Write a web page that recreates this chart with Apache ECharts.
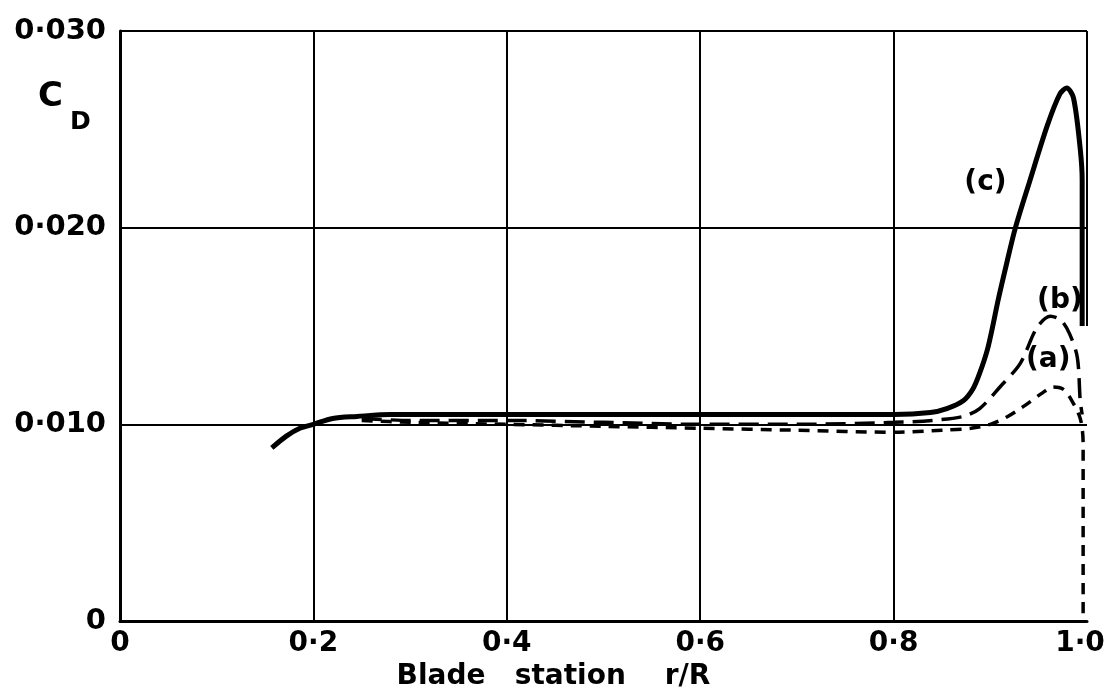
<!DOCTYPE html>
<html>
<head>
<meta charset="utf-8">
<script src="https://cdn.jsdelivr.net/npm/echarts@6/dist/echarts.min.js"></script>
<style>html,body{margin:0;padding:0;background:#fff;}#c{width:1109px;height:695px;}</style>
</head>
<body>
<div id="c"></div>
<script>
const xTickLabels = {0: '0', 0.2: '0·2', 0.4: '0·4', 0.6: '0·6', 0.8: '0·8', 1: '1·0'};
const yTickLabels = {0: '0', 0.01: '0·010', 0.02: '0·020', 0.03: '0·030'};

const curveC_x = [0.157, 0.172, 0.186, 0.2, 0.22, 0.245, 0.28, 0.4, 0.5, 0.6, 0.7, 0.8, 0.838, 0.855, 0.872, 0.882, 0.889, 0.897, 0.903, 0.908, 0.917, 0.926, 0.941, 0.959, 0.972, 0.979, 0.986, 0.993, 0.995, 0.995];
const curveC_y = [0.0088, 0.0094, 0.0098, 0.0100, 0.0103, 0.0104, 0.0105, 0.0105, 0.0105, 0.0105, 0.0105, 0.0105, 0.0106, 0.0108, 0.0112, 0.0118, 0.0126, 0.0138, 0.0151, 0.0163, 0.0182, 0.0200, 0.0224, 0.0252, 0.0268, 0.0271, 0.0266, 0.0240, 0.0224, 0.0150];

const curveB_x = [0.25, 0.3, 0.4, 0.5, 0.6, 0.7, 0.8, 0.84, 0.872, 0.889, 0.910, 0.931, 0.948, 0.962, 0.973, 0.982, 0.990, 0.993, 0.995];
const curveB_y = [0.0103, 0.0102, 0.0102, 0.0101, 0.0100, 0.0100, 0.0101, 0.0102, 0.0104, 0.0108, 0.0119, 0.0131, 0.0149, 0.0155, 0.0153, 0.0146, 0.0134, 0.0112, 0.0105];

const curveA_x = [0.25, 0.3, 0.4, 0.5, 0.6, 0.7, 0.8, 0.85, 0.88, 0.900, 0.918, 0.934, 0.954, 0.965, 0.975, 0.982, 0.993, 0.996, 0.996];
const curveA_y = [0.0102, 0.0101, 0.0100, 0.0099, 0.0098, 0.0097, 0.0096, 0.0097, 0.0098, 0.0100, 0.0104, 0.0109, 0.0116, 0.0119, 0.0118, 0.0114, 0.0103, 0.0090, 0.0000];

const labelsText = ['(a)', '(b)', '(c)'];
const labelsPos = [[0.960, 0.0133], [0.972, 0.0163], [0.895, 0.0223]];

function pairs(xs, ys) { return xs.map((x, i) => [x, ys[i]]); }

const FONT = 'DejaVu Sans';
const chart = echarts.init(document.getElementById('c'), null, {renderer: 'canvas'});
chart.setOption({
  animation: false,
  backgroundColor: '#fff',
  grid: {left: 120, right: 22, top: 31, bottom: 74, containLabel: false, outerBoundsMode: 'none'},
  xAxis: {
    type: 'value', min: 0, max: 1, interval: 0.2,
    axisLine: {show: true, lineStyle: {color: '#000', width: 3}},
    axisTick: {show: false},
    axisLabel: {
      color: '#000', fontFamily: FONT, fontWeight: 'bold', fontSize: 28, margin: 9,
      formatter: v => {
        const t = xTickLabels[Math.round(v * 10) / 10] ?? '';
        return v >= 1 ? '{last|' + t + '}' : t;
      },
      rich: {last: {color: '#000', fontFamily: FONT, fontWeight: 'bold', fontSize: 28, padding: [0, 14, 0, 0]}}
    },
    splitLine: {show: true, showMinLine: false, showMaxLine: false, lineStyle: {color: '#000', width: 2}},
    name: 'Blade   station    r/R', nameLocation: 'middle', nameGap: 42,
    nameTextStyle: {color: '#000', fontFamily: FONT, fontWeight: 'bold', fontSize: 28, padding: [0, 100, 0, 0]}
  },
  yAxis: {
    type: 'value', min: 0, max: 0.03, interval: 0.01,
    axisLine: {show: true, lineStyle: {color: '#000', width: 3}},
    axisTick: {show: false},
    axisLabel: {
      color: '#000', fontFamily: FONT, fontWeight: 'bold', fontSize: 29, margin: 14,
      formatter: v => yTickLabels[Math.round(v * 1000) / 1000] ?? ''
    },
    splitLine: {show: true, showMinLine: false, showMaxLine: true, lineStyle: {color: '#000', width: 2}}
  },
  graphic: [
    {type: 'text', left: 38, top: 80, style: {text: 'C', font: 'bold 34px "DejaVu Sans"', fill: '#000'}},
    {type: 'text', left: 70, top: 110, style: {text: 'D', font: 'bold 25px "DejaVu Sans"', fill: '#000'}}
  ],
  series: [
    {
      name: '(c)', type: 'line', data: pairs(curveC_x, curveC_y), smooth: 0.3, showSymbol: false,
      lineStyle: {color: '#000', width: 5},
      markLine: {
        silent: true, symbol: 'none', label: {show: false},
        lineStyle: {color: '#000', width: 2, type: 'solid'},
        data: [[{coord: [1, 0.015]}, {coord: [1, 0.03]}]]
      }
    },
    {
      name: '(b)', type: 'line', data: pairs(curveB_x, curveB_y), smooth: 0.3, showSymbol: false,
      lineStyle: {color: '#000', width: 3.5, type: [20, 9]}
    },
    {
      name: '(a)', type: 'line', data: pairs(curveA_x, curveA_y), smooth: 0.3, showSymbol: false,
      lineStyle: {color: '#000', width: 3.5, type: [11, 8]}
    },
    {
      name: 'labels', type: 'scatter', symbolSize: 1, silent: true,
      itemStyle: {color: 'rgba(0,0,0,0)', opacity: 1},
      data: labelsPos.map((p, i) => ({value: p, label: {show: true, formatter: labelsText[i]}})),
      label: {show: true, position: 'inside', color: '#000', textBorderWidth: 0, fontFamily: FONT, fontWeight: 'bold', fontSize: 28}
    }
  ]
});
</script>
</body>
</html>
